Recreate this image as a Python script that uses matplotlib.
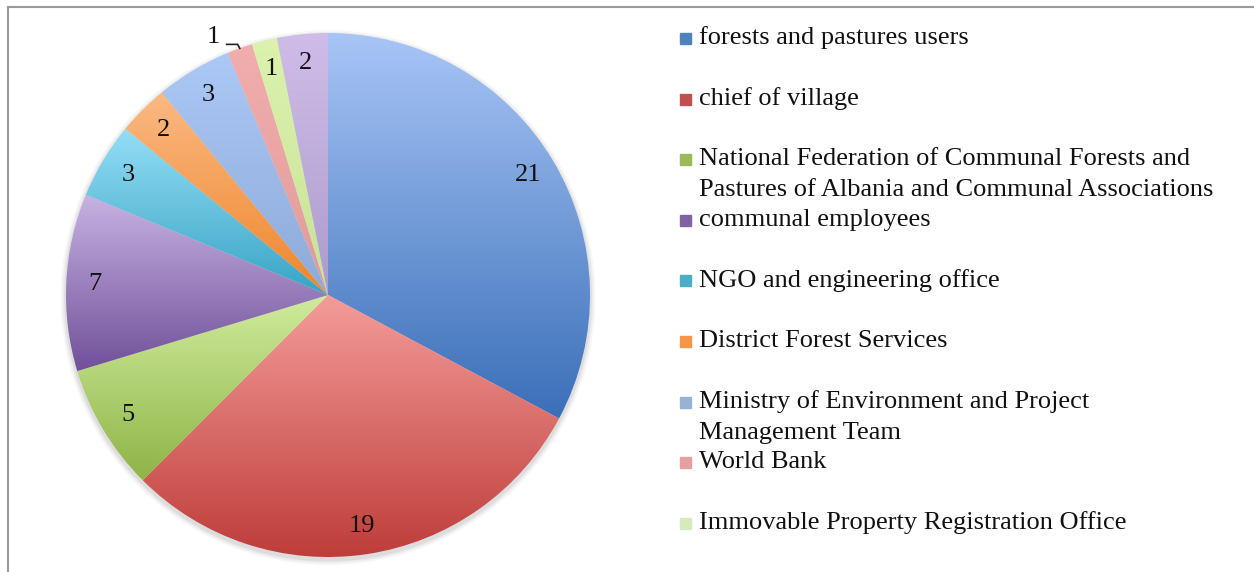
import matplotlib.pyplot as plt
import numpy as np
from matplotlib.colors import to_rgb
from matplotlib.lines import Line2D
from matplotlib.patches import Rectangle, Circle

# slice values, clockwise from 12 o'clock
values = [21, 19, 5, 7, 3, 2, 3, 1, 1, 2]
legend_labels = [
    "forests and pastures users",
    "chief of village",
    "National Federation of Communal Forests and\nPastures of Albania and Communal Associations",
    "communal employees",
    "NGO and engineering office",
    "District Forest Services",
    "Ministry of Environment and Project\nManagement Team",
    "World Bank",
    "Immovable Property Registration Office",
]
# (top, bottom) gradient colours per slice
top_colors = ["#a8c5f6", "#f49c9a", "#d0ec9c", "#c8b3e2", "#94def6",
              "#fbb982", "#abc8f6", "#f2aeae", "#dcf2ae", "#d0bce8"]
bot_colors = ["#3a6fb8", "#be3d39", "#8fb447", "#70509a", "#38a4c4",
              "#ee862c", "#8eaad8", "#e09a9a", "#c8e298", "#ac9ccc"]
legend_colors = ["#4f81bd", "#c0504d", "#9bbb59", "#8064a2", "#4bacc6",
                 "#f79646", "#95b3d7", "#e6a0a0", "#d7eabd"]

plt.rcParams["font.family"] = ["Liberation Serif", "DejaVu Serif"]

W, H = 1254, 572
fig = plt.figure(figsize=(W / 100, H / 100), dpi=100)

cx, cy, r = 328, 295, 262
ax = fig.add_axes([(cx - r) / W, (H - cy - r) / H, 2 * r / W, 2 * r / H])

# soft shadow under the pie
for k, a in enumerate([0.06, 0.045, 0.03]):
    c = Circle((0.0, -0.01), 1.0 + 0.007 * (k + 1), color="black",
               alpha=a, lw=0, zorder=0)
    c.set_clip_on(False)
    ax.add_patch(c)

total = sum(values)
wedges, _, autotexts = ax.pie(
    values, startangle=90, counterclock=False, radius=1.0,
    labels=None, autopct=lambda p: f"{round(p * total / 100)}",
    pctdistance=0.89, textprops=dict(fontsize=19, color="#111111"),
    wedgeprops=dict(linewidth=0),
)

for w, ct, cb in zip(wedges, top_colors, bot_colors):
    ext = w.get_path().get_extents()
    grad = np.linspace(0, 1, 256)[:, None, None]
    img = (1 - grad) * np.array(to_rgb(cb)) + grad * np.array(to_rgb(ct))
    im = ax.imshow(img, extent=[ext.x0, ext.x1, ext.y0, ext.y1],
                   origin="lower", aspect="auto", zorder=1,
                   interpolation="bilinear")
    im.set_clip_path(w)
    w.set_facecolor("none")

for t in autotexts:
    t.set_zorder(3)

# World Bank label sits outside with a leader line
wb = wedges[7]
mid = np.deg2rad((wb.theta1 + wb.theta2) / 2)
ex, ey = np.cos(mid), np.sin(mid)
autotexts[7].set_position((ex - 0.10, ey + 0.045))
autotexts[7].set_clip_on(False)
ax.plot([ex - 0.05, ex - 0.008, ex], [ey + 0.015, ey + 0.015, ey],
        color="#222222", lw=1.2, zorder=3, clip_on=False)

ax.set_xlim(-1.0, 1.0)
ax.set_ylim(-1.0, 1.0)
ax.set_aspect("equal")
ax.axis("off")

# legend drawn by hand
y0, step, line_h = 38, 60.6, 31
for i, (lab, col) in enumerate(zip(legend_labels, legend_colors)):
    y = y0 + step * i
    fig.patches.append(Rectangle((680 / W, (H - y - 6) / H), 11 / W, 11 / H,
                                 transform=fig.transFigure, color=col))
    for j, line in enumerate(lab.split("\n")):
        fig.text(699 / W, (H - y - j * line_h) / H, line, fontsize=19,
                 va="center", ha="left", color="#111111")

# frame
fig.add_artist(Line2D([8 / W, 8 / W], [0, (H - 7) / H], color="#9a9a9a", lw=1.5))
fig.add_artist(Line2D([8 / W, 1], [(H - 7) / H, (H - 7) / H], color="#9a9a9a", lw=1.5))

fig.savefig("out.png", dpi=100)
